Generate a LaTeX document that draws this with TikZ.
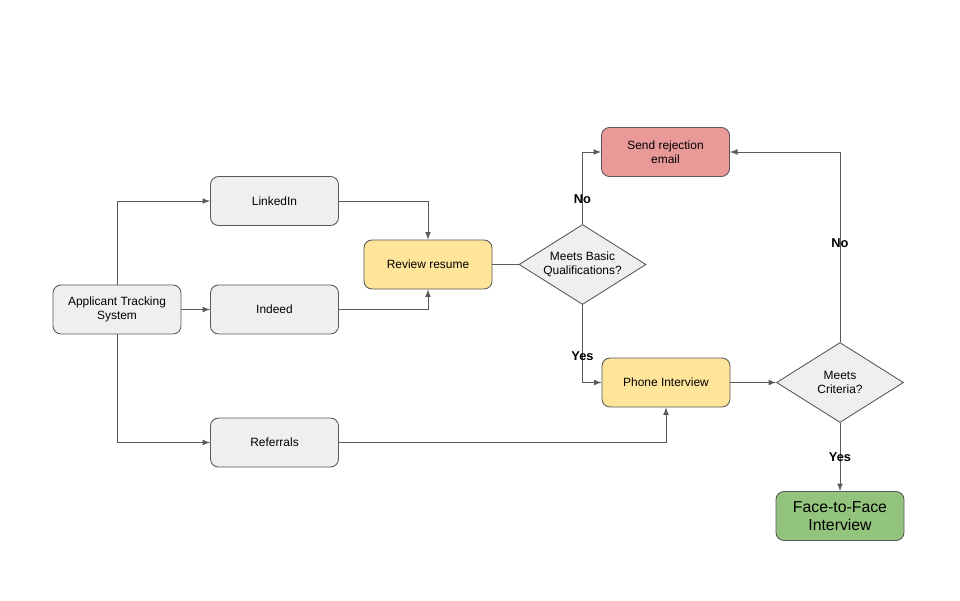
\documentclass[tikz,border=0pt]{standalone}
\usepackage{fontspec}
\setmainfont{Liberation Sans}
\usetikzlibrary{arrows,calc,positioning}
\usetikzlibrary{shapes,shapes.geometric}
\definecolor{boxgray}{HTML}{EFEFEF}
\definecolor{boxyellow}{HTML}{FFE599}
\definecolor{boxred}{HTML}{EA9999}
\definecolor{boxgreen}{HTML}{93C47D}
\definecolor{linegray}{HTML}{595959}
\tikzset{box/.style={
        draw=linegray,
        line width=0.5pt,
        rounded corners=1.6mm,
        minimum width=2.56cm,
        minimum height=0.98cm,
        align=center,
        font=\fontsize{6.8}{8}\selectfont,
        fill=boxgray,
    },
    decision/.style={
        draw=linegray,
        line width=0.5pt,
        diamond,
        aspect=1.6,
        inner sep=0pt,
        minimum width=2.54cm,
        minimum height=1.6cm,
        align=center,
        font=\fontsize{6.8}{8}\selectfont,
        fill=boxgray,
    },
    answer/.style={
        font=\bfseries\fontsize{7.3}{8}\selectfont,
    }
}

\begin{document}
\begin{tikzpicture}[>=latex,node distance=3cm,on grid,line width=0.5pt]
  \useasboundingbox (0,0) rectangle (19.2,12);
  \node[box] (ats) at (2.34,5.81) {Applicant Tracking\\System};
  \node[box] (linkedin) [above right=2.17cm and 3.15cm of ats] {LinkedIn};
  \node[box] (indeed) [right=3.15cm of ats] {Indeed};
  \node[box] (referrals) [below right=2.66cm and 3.15cm of ats] {Referrals};
  \node[box, fill=boxyellow] (review) at (8.56,6.71) {Review resume};
  \node[decision] (basic) [right=3.09cm of review] {Meets Basic\\Qualifications?};
  \node[box, fill=boxred] (reject) at (13.31,8.96) {Send rejection\\email};
  \node[box, fill=boxyellow] (phone) at (13.32,4.35) {Phone Interview};
  \node[decision] (criteria) [right=3.48cm of phone] {Meets\\Criteria?};
  \node[box, fill=boxgreen, font=\fontsize{9}{10.5}\selectfont] (facetoface) [below=2.67cm of criteria] {Face-to-Face\\Interview};
  \begin{scope}[draw=linegray]
    \draw[->] (ats.north) |- (linkedin.west);
    \draw[->] (ats.east) -- (indeed.west);
    \draw[->] (ats.south) |- (referrals.west);
    \draw[->] (linkedin.east) -| (review.north);
    \draw[->] (indeed.east) -| (review.south);
    \draw (review.east) -- (basic.west);
    \draw[->] (basic.north) |- node[answer, pos=0.17] {No} (reject.west);
    \draw[->] (basic.south) |- node[answer, pos=0.33] {Yes} (phone.west);
    \draw[->] (referrals.east) -| (phone.south);
    \draw[->] (phone.east) -- (criteria.west);
    \draw[->] (criteria.north) |- node[answer, pos=0.26] {No} (reject.east);
    \draw[->] (criteria.south) -- node[answer] {Yes} (facetoface.north);
  \end{scope}
\end{tikzpicture}
\end{document}
